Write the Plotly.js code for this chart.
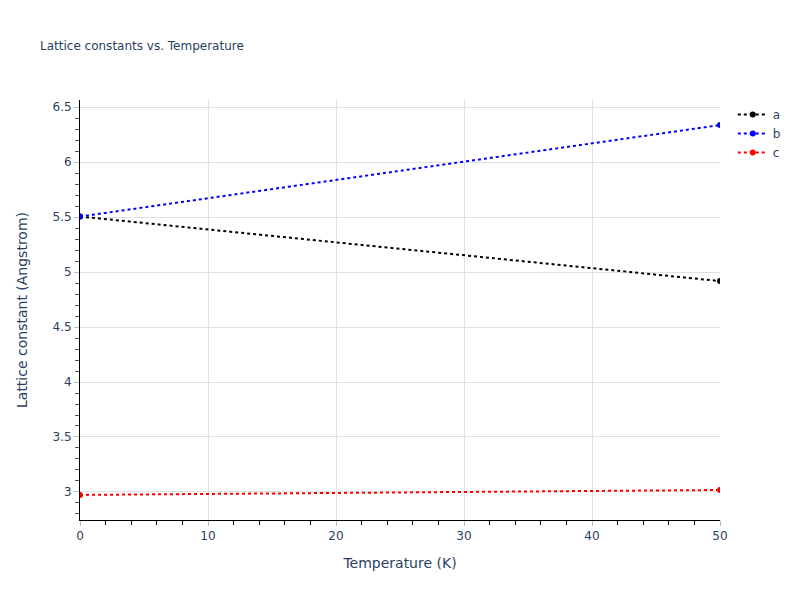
<!DOCTYPE html>
<html>
<head>
<meta charset="utf-8">
<script src="https://cdn.plot.ly/plotly-3.0.1.min.js"></script>
<style>body{margin:0;padding:0;}#chart{width:800px;height:600px;}</style>
</head>
<body>
<div id="chart"></div>
<script>
const temperature = [0, 50];
const aValues = [5.505, 4.918];
const bValues = [5.505, 6.337];
const cValues = [2.973, 3.018];
const seriesNames = ["a", "b", "c"];
const seriesColors = ["black", "blue", "red"];

const seriesValues = [aValues, bValues, cValues];
const traces = seriesValues.map((vals, i) => ({
  x: temperature,
  y: vals,
  name: seriesNames[i],
  type: "scatter",
  mode: "lines+markers",
  line: {color: seriesColors[i], dash: "dot", width: 2},
  marker: {color: seriesColors[i], size: 6}
}));

const layout = {
  width: 800,
  height: 600,
  paper_bgcolor: "white",
  plot_bgcolor: "white",
  font: {family: '"DejaVu Sans", verdana, sans-serif', color: "#2a3f5f", size: 12},
  title: {text: "Lattice constants vs. Temperature", font: {size: 12}, x: 0.05},
  margin: {l: 80, r: 80, t: 100, b: 80},
  showlegend: true,
  legend: {x: 1.02, y: 1, font: {size: 12}},
  xaxis: {
    title: {text: "Temperature (K)", font: {size: 14}, standoff: 15},
    range: [0, 50],
    dtick: 10,
    showline: true, linecolor: "black", linewidth: 1,
    ticks: "outside", tickcolor: "#bbb", ticklen: 5,
    showgrid: true, gridcolor: "#e0e0e0",
    zeroline: false,
    automargin: false,
    minor: {ticks: "outside", dtick: 2, ticklen: 4, tickcolor: "black", showgrid: false}
  },
  yaxis: {
    title: {text: "Lattice constant (Angstrom)", font: {size: 14}, standoff: 21},
    range: [2.745, 6.565],
    dtick: 0.5,
    showline: true, linecolor: "black", linewidth: 1,
    ticks: "outside", tickcolor: "#bbb", ticklen: 5,
    showgrid: true, gridcolor: "#e0e0e0",
    zeroline: false,
    automargin: false,
    minor: {ticks: "outside", dtick: 0.1, ticklen: 4, tickcolor: "#555", showgrid: false}
  }
};

Plotly.newPlot("chart", traces, layout, {displayModeBar: false});
</script>
</body>
</html>
